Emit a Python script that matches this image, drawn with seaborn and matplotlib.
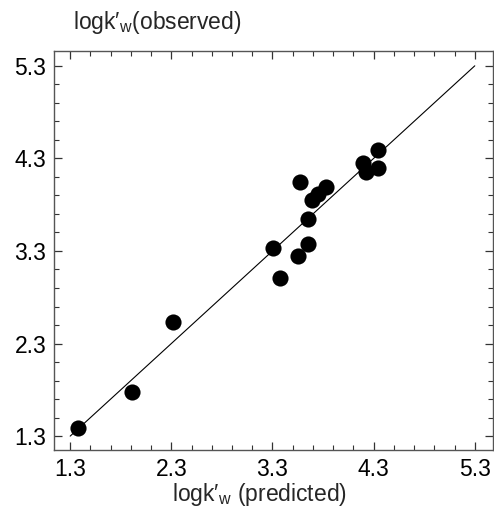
import matplotlib
matplotlib.use("Agg")
import matplotlib.pyplot as plt
import seaborn as sns
import pandas as pd
from matplotlib.ticker import FixedLocator

predicted = [1.376, 1.916, 2.321, 3.309, 3.375, 3.556, 3.649, 3.655, 3.573,
             3.686, 3.751, 3.830, 4.195, 4.225, 4.343, 4.343]
observed = [1.391, 1.776, 2.537, 3.337, 3.012, 3.243, 3.372, 3.643, 4.046,
            3.848, 3.913, 3.989, 4.248, 4.151, 4.389, 4.194]
line_x = [1.3, 5.3]
line_y = [1.3, 5.3]
ticks = [1.3, 2.3, 3.3, 4.3, 5.3]
tick_labels = ["1.3", "2.3", "3.3", "4.3", "5.3"]

sns.set_theme(style="white")
plt.rcParams["font.family"] = ["Liberation Sans", "DejaVu Sans"]
plt.rcParams["mathtext.fontset"] = "custom"
plt.rcParams["mathtext.rm"] = "Liberation Sans"
plt.rcParams["mathtext.it"] = "Liberation Sans"

df = pd.DataFrame({"predicted": predicted, "observed": observed})

fig = plt.figure(figsize=(4.94, 5.17), dpi=100)
ax = fig.add_axes([54/494, 1-450/517, (493-54)/494, (450-51)/517])

sns.lineplot(x=line_x, y=line_y, ax=ax, color="black", lw=0.8)
sns.scatterplot(data=df, x="predicted", y="observed", ax=ax, s=135,
                color="black", edgecolor="black", linewidth=0, zorder=3)

ax.set_xlim(1.14, 5.48)
ax.set_ylim(1.15, 5.46)
ax.xaxis.set_major_locator(FixedLocator(ticks))
ax.yaxis.set_major_locator(FixedLocator(ticks))
ax.set_xticklabels(tick_labels)
ax.set_yticklabels(tick_labels)
ax.xaxis.set_minor_locator(FixedLocator([1.3 + 0.2*i for i in range(-1, 22)]))
ax.yaxis.set_minor_locator(FixedLocator([1.3 + 0.2*i for i in range(-1, 22)]))
ax.tick_params(which="both", direction="in", top=True, right=True,
               bottom=True, left=True, color="#333333", labelsize=16.5,
               labelcolor="black")
ax.tick_params(which="major", length=5.8, width=0.9, pad=5.5)
ax.tick_params(which="minor", length=3.6, width=0.8)
for sp in ax.spines.values():
    sp.set_color("#555555")
    sp.set_linewidth(1.0)

ax.set_xlabel("")
ax.set_ylabel("")
fig.text(259/494, 1-494/517, r"logk′$_{\rm w}$ (predicted)", ha="center",
         va="center", fontsize=16.5)
fig.text(73/494, 1-23/517, r"logk′$_{\rm w}$(observed)", ha="left",
         va="center", fontsize=16.5)

fig.savefig("out.png", dpi=100)
